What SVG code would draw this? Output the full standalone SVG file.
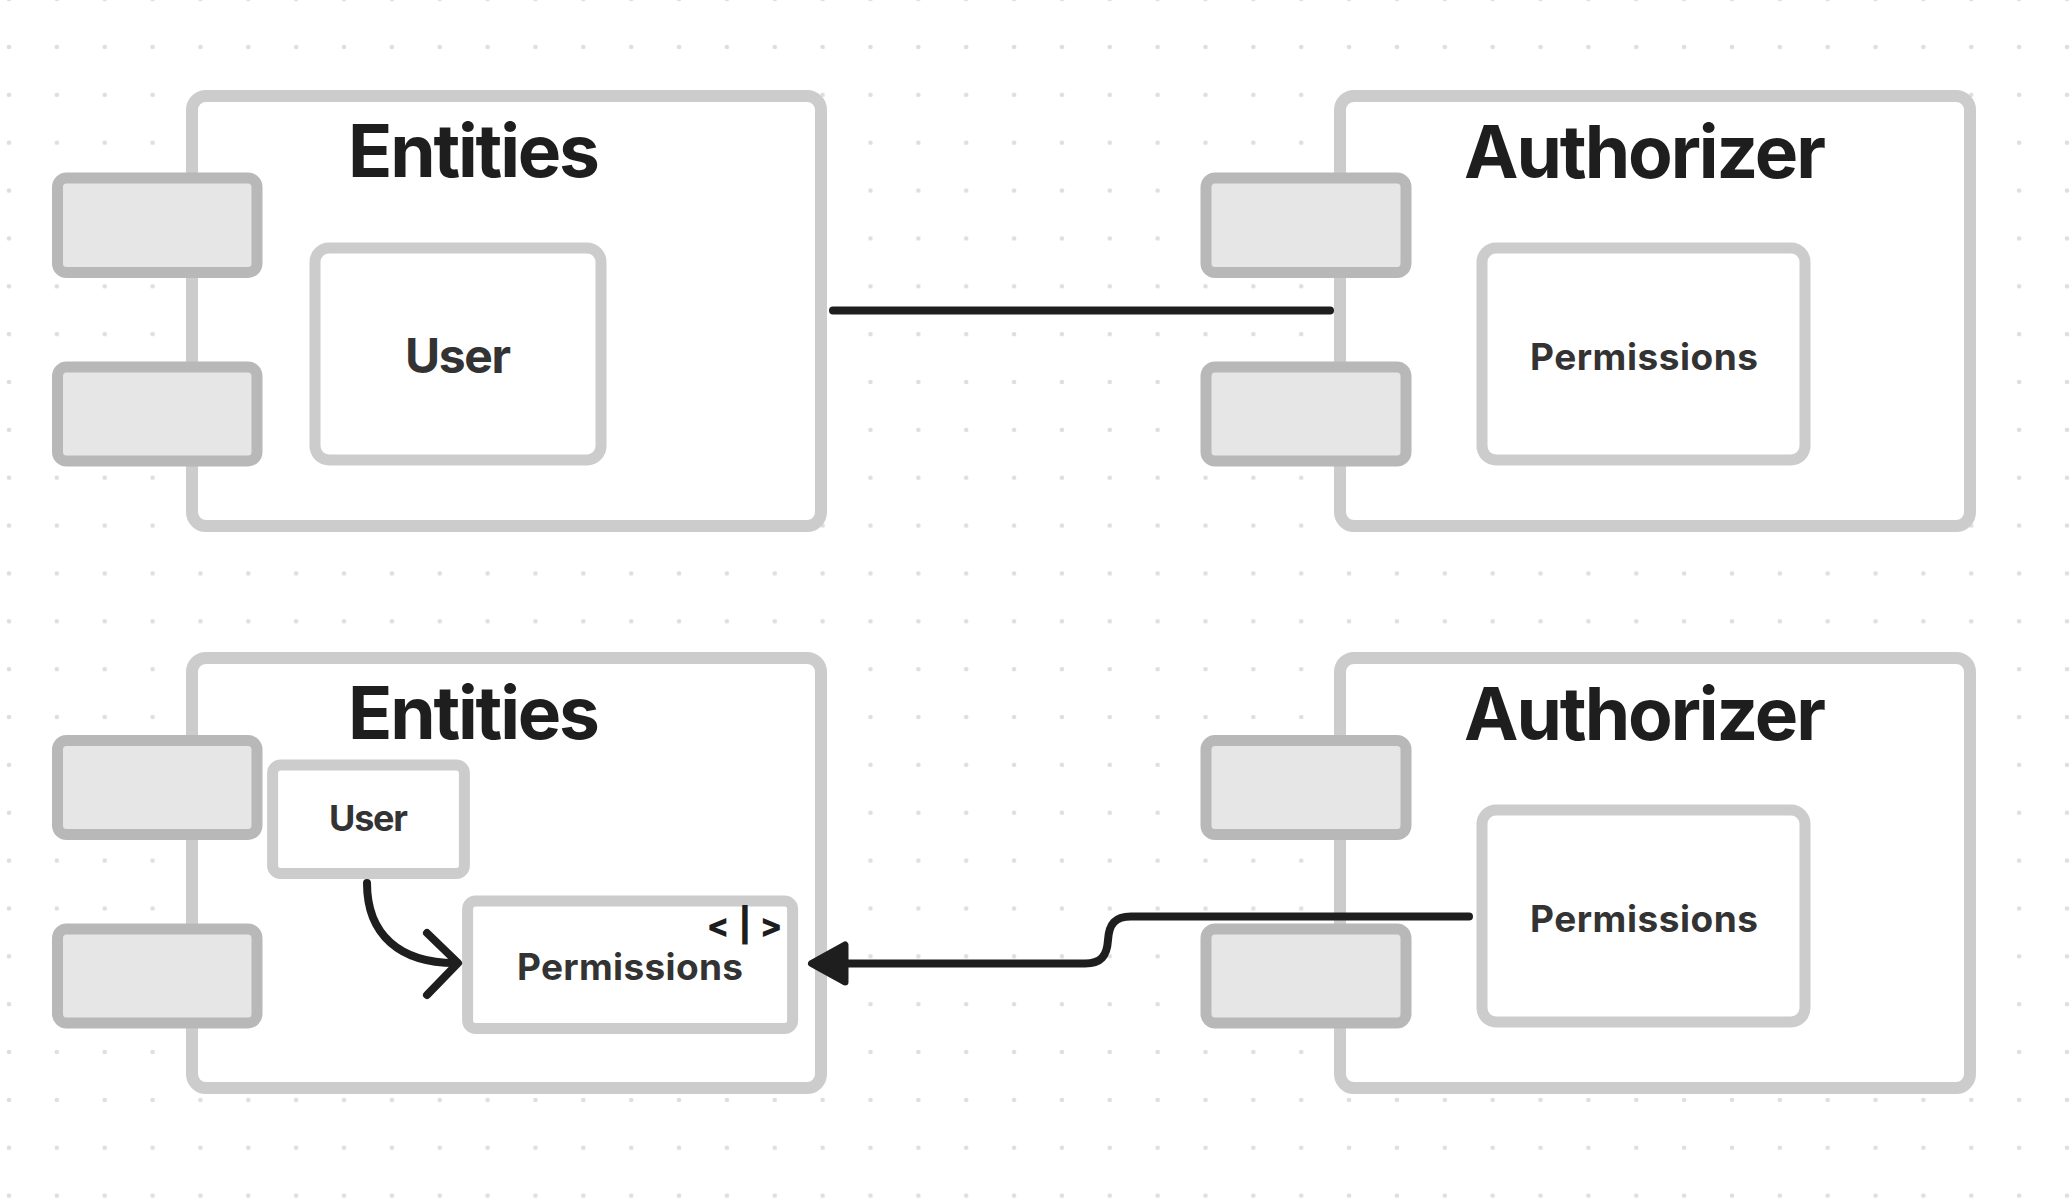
<svg xmlns="http://www.w3.org/2000/svg" width="2070" height="1202" viewBox="0 0 2070 1202">
<defs>
<pattern id="dots" patternUnits="userSpaceOnUse" x="-14.93" y="23.07" width="47.86" height="47.86">
<circle cx="23.93" cy="23.93" r="2.3" fill="#dedede"/>
</pattern>
<style>
.container{fill:#ffffff;stroke:#cccccc;stroke-width:12}
.port{fill:#e6e6e6;stroke:#b8b8b8;stroke-width:11}
.inner{fill:#ffffff;stroke:#cccccc;stroke-width:11}
.title{font-family:Inter,"Liberation Sans",sans-serif;font-weight:700;font-size:73px;fill:#1e1e1e;text-anchor:middle}
.label{font-family:Inter,"Liberation Sans",sans-serif;font-weight:700;fill:#333333;text-anchor:middle}
.icon{font-family:Inter,"Liberation Sans",sans-serif;font-weight:800;font-size:33px;fill:#1e1e1e;text-anchor:middle}
.wire{fill:none;stroke:#1e1e1e;stroke-width:8;stroke-linecap:round;stroke-linejoin:round}
</style>
</defs>
<rect width="2070" height="1202" fill="#ffffff"/>
<rect width="2070" height="1202" fill="url(#dots)"/>

<g id="entities-top">
<rect class="container" x="192" y="96" width="629" height="430" rx="14"/>
<rect class="port" x="57.5" y="178" width="199.5" height="94.5" rx="9"/>
<rect class="port" x="57.5" y="367" width="199.5" height="94" rx="9"/>
<text class="title" x="474" y="177" textLength="252">Entities</text>
</g>
<g id="user-top">
<rect class="inner" x="315" y="248" width="286" height="212" rx="14"/>
<text class="label" x="458" y="373" font-size="48" textLength="106">User</text>
</g>

<g id="authorizer-top">
<rect class="container" x="1340" y="96" width="630" height="430" rx="14"/>
<rect class="port" x="1206" y="178" width="200" height="94.5" rx="9"/>
<rect class="port" x="1206" y="367" width="200" height="94" rx="9"/>
<text class="title" x="1645" y="178" textLength="362">Authorizer</text>
</g>
<g id="permissions-top">
<rect class="inner" x="1482" y="248" width="323" height="212" rx="14"/>
<text class="label" x="1644" y="370" font-size="37" textLength="228">Permissions</text>
</g>

<g id="entities-bottom">
<rect class="container" x="192" y="658" width="629" height="430" rx="14"/>
<rect class="port" x="57.5" y="740.5" width="199.5" height="94" rx="9"/>
<rect class="port" x="57.5" y="929" width="199.5" height="94" rx="9"/>
<text class="title" x="474" y="739" textLength="252">Entities</text>
</g>
<g id="user-bottom">
<rect class="inner" x="272.6" y="765" width="191.8" height="108.5" rx="8"/>
<text class="label" x="368.5" y="831" font-size="36" textLength="79">User</text>
</g>
<g id="permissions-bottom-left">
<rect class="inner" x="467.6" y="901" width="325" height="127.5" rx="8"/>
<text class="label" x="630" y="980" font-size="37" textLength="226">Permissions</text>
<text class="icon" y="937"><tspan x="718">&lt;</tspan><tspan x="745">|</tspan><tspan x="771">&gt;</tspan></text>
</g>

<g id="authorizer-bottom">
<rect class="container" x="1340" y="658" width="630" height="430" rx="14"/>
<rect class="port" x="1206" y="740.5" width="200" height="94" rx="9"/>
<rect class="port" x="1206" y="929" width="200" height="94" rx="9"/>
<text class="title" x="1645" y="740" textLength="362">Authorizer</text>
</g>
<g id="permissions-bottom-right">
<rect class="inner" x="1482" y="810" width="323" height="212" rx="14"/>
<text class="label" x="1644" y="932" font-size="37" textLength="228">Permissions</text>
</g>

<g id="connectors">
<line class="wire" x1="833" y1="310.5" x2="1330" y2="310.5"/>
<path class="wire" d="M367 883 C367 935 400 963 455 963"/>
<polyline class="wire" points="427,933 458,963 427,995"/>
<path class="wire" d="M1469 916.5 H1131 C1115 916.5 1109 924 1108 940 C1107 956 1101 963.5 1085 963.5 H842"/>
<polygon points="811.5,963.5 845,945 845,982" fill="#1e1e1e" stroke="#1e1e1e" stroke-width="7" stroke-linejoin="round"/>
</g>
</svg>
